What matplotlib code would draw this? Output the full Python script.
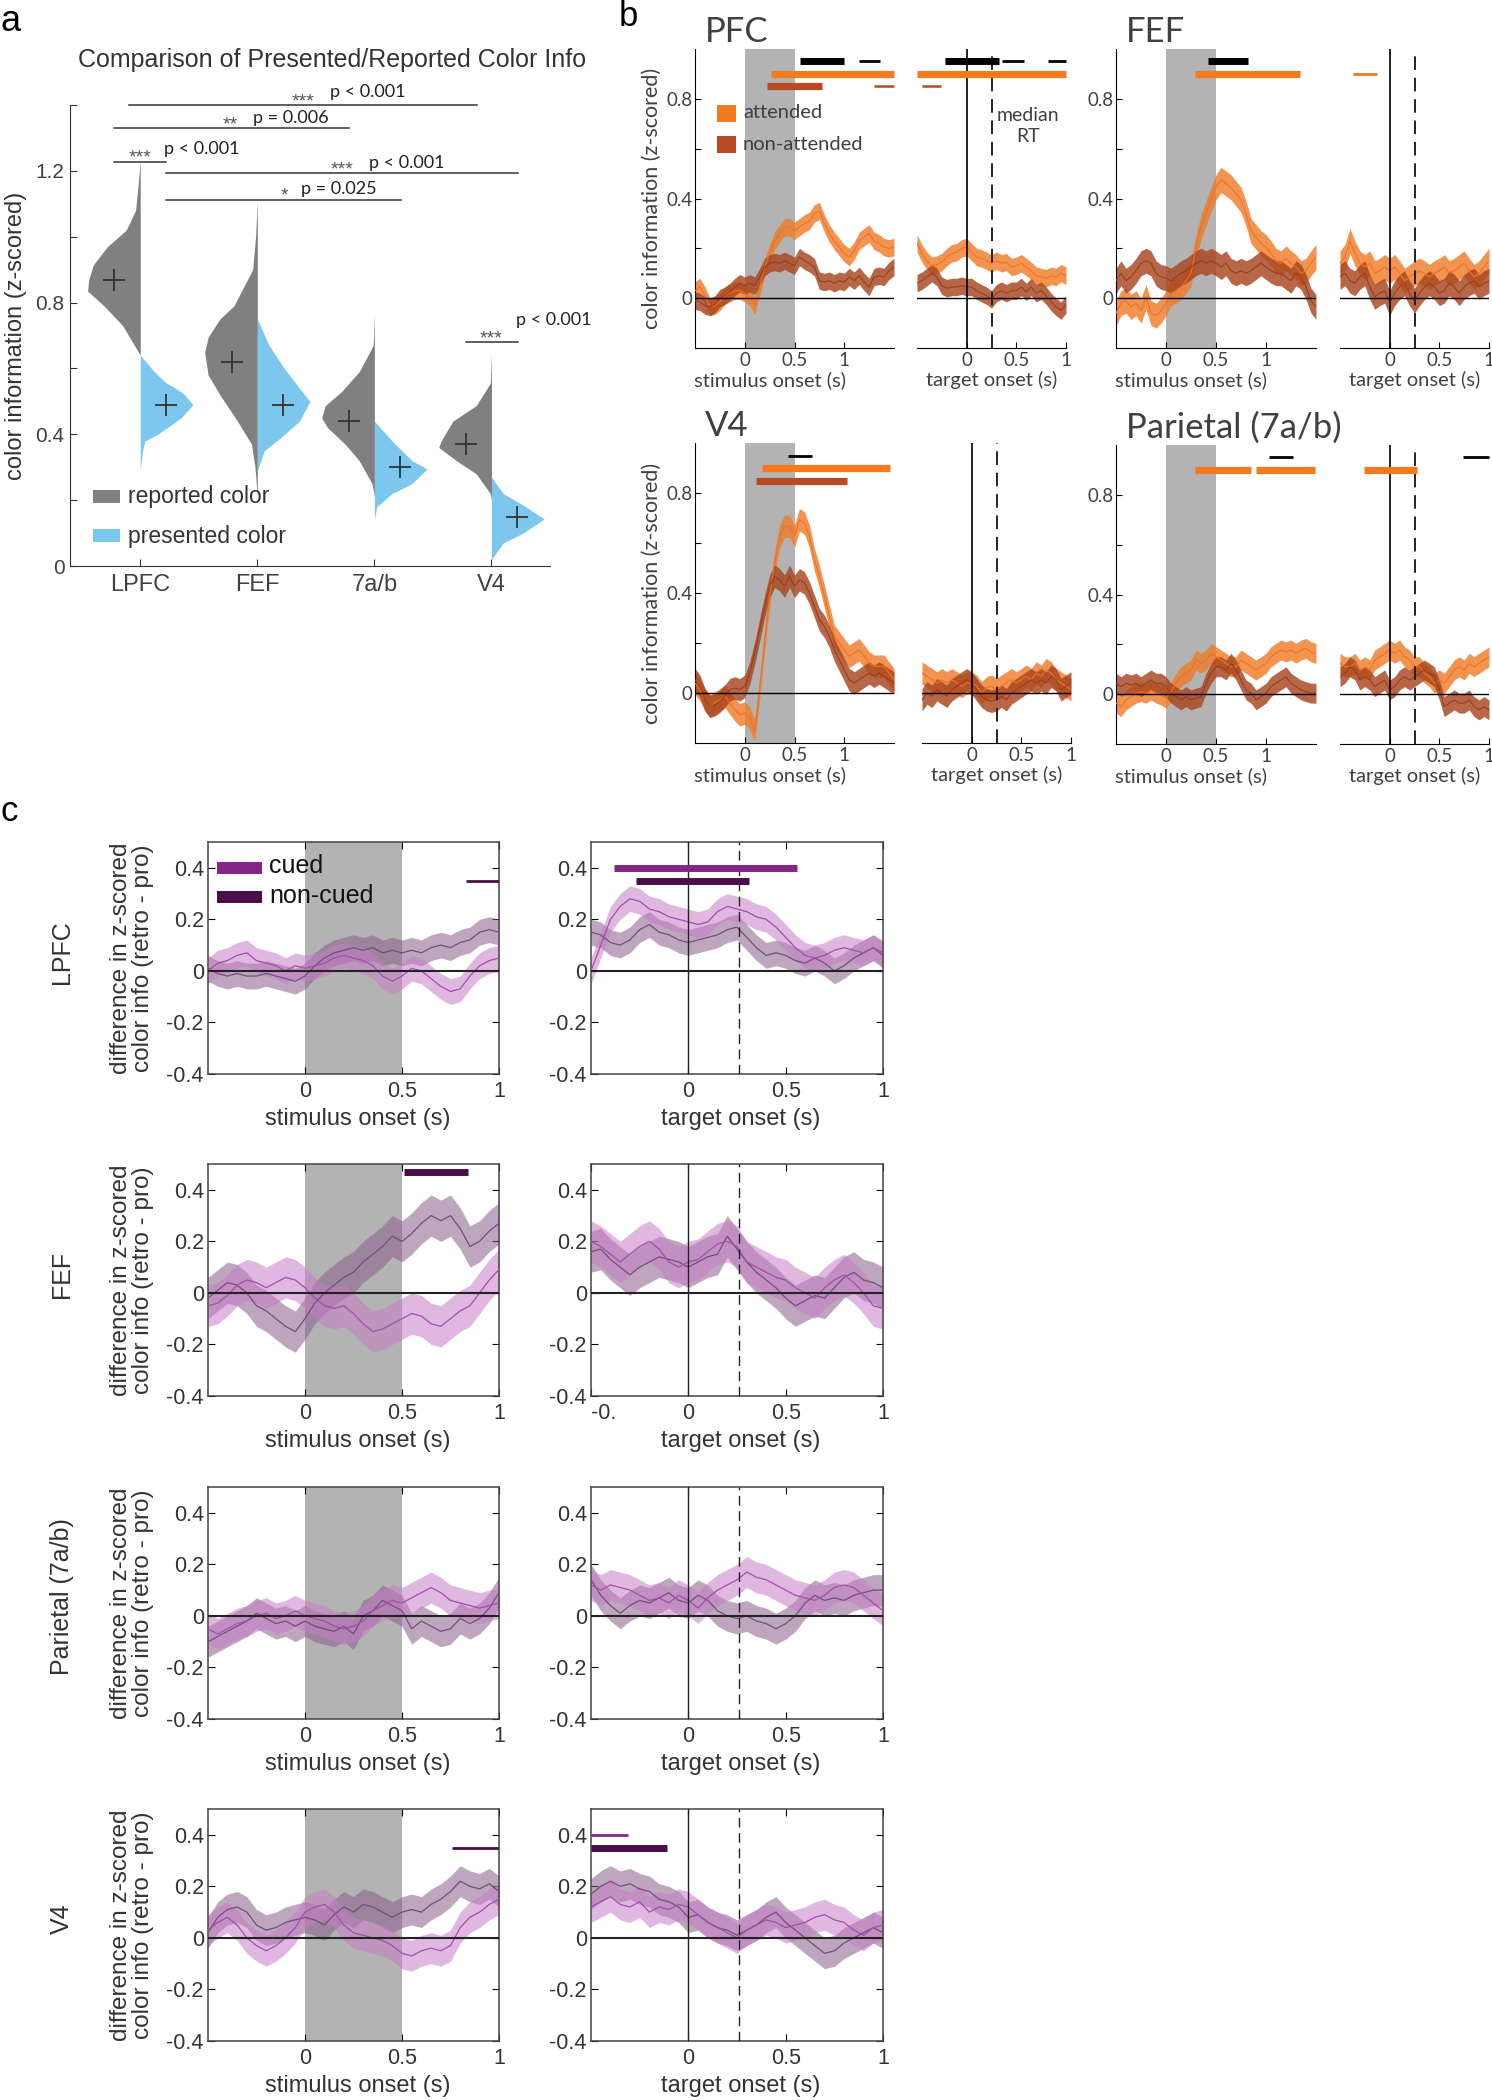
import numpy as np
import matplotlib
matplotlib.use("Agg")
import matplotlib.pyplot as plt
from matplotlib.patches import Rectangle

plt.rcParams["axes.unicode_minus"] = False

HELV = ["Liberation Sans", "DejaVu Sans"]
CALI = ["Lato", "DejaVu Sans"]

# ---------------- panel a: half violins ----------------
AREAS_A = ["LPFC", "FEF", "7a/b", "V4"]
REP_MEANS = [0.87, 0.62, 0.44, 0.37]
PRE_MEANS = [0.49, 0.49, 0.30, 0.15]

LPFC_REP_Y = [0.64, 0.67, 0.73, 0.79, 0.835, 0.87, 0.915, 0.97, 1.02, 1.08, 1.15, 1.23]
LPFC_REP_W = [0.0, 0.05, 0.15, 0.31, 0.45, 0.44, 0.40, 0.28, 0.12, 0.04, 0.02, 0.0]
LPFC_PRE_Y = [0.29, 0.35, 0.38, 0.40, 0.45, 0.49, 0.52, 0.543, 0.556, 0.59, 0.64]
LPFC_PRE_W = [0.0, 0.02, 0.04, 0.15, 0.35, 0.45, 0.38, 0.29, 0.22, 0.12, 0.0]
FEF_REP_Y = [0.21, 0.30, 0.37, 0.44, 0.52, 0.58, 0.65, 0.695, 0.75, 0.79, 0.90, 1.0, 1.106]
FEF_REP_W = [0.0, 0.02, 0.05, 0.17, 0.32, 0.42, 0.45, 0.42, 0.32, 0.20, 0.04, 0.015, 0.0]
FEF_PRE_Y = [0.29, 0.35, 0.39, 0.44, 0.50, 0.54, 0.60, 0.67, 0.75]
FEF_PRE_W = [0.0, 0.06, 0.20, 0.36, 0.45, 0.36, 0.23, 0.10, 0.0]
PAR_REP_Y = [0.21, 0.25, 0.32, 0.37, 0.42, 0.45, 0.487, 0.53, 0.59, 0.67, 0.765]
PAR_REP_W = [0.0, 0.02, 0.13, 0.25, 0.40, 0.45, 0.42, 0.28, 0.13, 0.01, 0.0]
PAR_PRE_Y = [0.14, 0.18, 0.22, 0.25, 0.295, 0.32, 0.38, 0.44]
PAR_PRE_W = [0.0, 0.02, 0.15, 0.32, 0.45, 0.32, 0.15, 0.0]
V4_REP_Y = [0.20, 0.22, 0.28, 0.32, 0.36, 0.38, 0.44, 0.487, 0.555, 0.643]
V4_REP_W = [0.0, 0.01, 0.13, 0.30, 0.45, 0.43, 0.33, 0.13, 0.01, 0.0]
V4_PRE_Y = [0.02, 0.07, 0.10, 0.143, 0.185, 0.22, 0.27]
V4_PRE_W = [0.0, 0.10, 0.27, 0.45, 0.27, 0.10, 0.0]

# comparisons: x0, x1, y, stars, p-value text
SIG_PAIRS = [
    (0.90, 3.88, 1.40, "***", "p < 0.001"),
    (0.78, 2.78, 1.33, "**", "p = 0.006"),
    (0.78, 1.22, 1.228, "***", "p < 0.001"),
    (1.22, 4.23, 1.193, "***", "p < 0.001"),
    (1.22, 3.23, 1.113, "*", "p = 0.025"),
    (3.78, 4.23, 0.68, "***", "p < 0.001"),
]
# star centre x, p text x, p text lift
SIG_TEXT_POS = [(2.39, 2.62, 0.024), (1.77, 1.96, 0.014), (1.0, 1.2, 0.024),
                (2.72, 2.95, 0.017), (2.23, 2.37, 0.017), (4.0, 4.21, 0.052)]

# ---------------- panel b: attended / non-attended ----------------
T_STIM = np.linspace(-0.5, 1.5, 41)
T_TARG = np.linspace(-0.5, 1.0, 31)

PFC_STIM_ATT = [0.03, 0.045, 0.01, -0.035, -0.03, -0.015, 0.01, 0.02, 0.03, 0.03,
                0.02, 0.005, -0.03, 0.045, 0.125, 0.18, 0.23, 0.26, 0.285, 0.285,
                0.27, 0.285, 0.30, 0.31, 0.34, 0.35, 0.30, 0.26, 0.23, 0.205,
                0.18, 0.165, 0.19, 0.23, 0.245, 0.26, 0.23, 0.22, 0.205, 0.20,
                0.205]
PFC_STIM_NON = [-0.01, -0.015, -0.03, -0.035, -0.025, 0.0, 0.01, 0.025, 0.045, 0.06,
                0.05, 0.06, 0.05, 0.085, 0.125, 0.14, 0.145, 0.14, 0.15, 0.14,
                0.13, 0.165, 0.15, 0.14, 0.125, 0.07, 0.065, 0.07, 0.06, 0.07,
                0.065, 0.085, 0.07, 0.09, 0.065, 0.045, 0.085, 0.09, 0.085, 0.11,
                0.125]
PFC_TARG_ATT = [0.22, 0.18, 0.15, 0.13, 0.135, 0.145, 0.165, 0.18, 0.185, 0.20,
                0.205, 0.185, 0.165, 0.16, 0.15, 0.14, 0.15, 0.14, 0.145, 0.125,
                0.13, 0.14, 0.125, 0.11, 0.09, 0.085, 0.08, 0.09, 0.085, 0.10,
                0.09]
PFC_TARG_NON = [0.06, 0.07, 0.085, 0.10, 0.085, 0.05, 0.04, 0.045, 0.045, 0.05,
                0.045, 0.045, 0.03, 0.02, 0.01, -0.005, 0.02, 0.03, 0.02, 0.03,
                0.03, 0.045, 0.025, 0.045, 0.02, 0.03, 0.01, -0.015, -0.035, -0.05,
                -0.025]

FEF_STIM_ATT = [-0.06, -0.02, -0.01, -0.035, -0.02, -0.05, 0.005, -0.06, -0.07, -0.05,
                -0.02, 0.02, 0.03, 0.045, 0.07, 0.10, 0.205, 0.285, 0.34, 0.395,
                0.445, 0.475, 0.46, 0.445, 0.42, 0.395, 0.34, 0.27, 0.245, 0.22,
                0.205, 0.18, 0.15, 0.14, 0.16, 0.14, 0.125, 0.10, 0.11, 0.14,
                0.165]
FEF_STIM_NON = [0.07, 0.10, 0.07, 0.085, 0.11, 0.14, 0.15, 0.14, 0.10, 0.085,
                0.08, 0.07, 0.085, 0.10, 0.11, 0.125, 0.14, 0.15, 0.14, 0.15,
                0.14, 0.125, 0.14, 0.11, 0.10, 0.11, 0.10, 0.11, 0.125, 0.14,
                0.125, 0.11, 0.10, 0.10, 0.085, 0.07, 0.10, 0.085, 0.045, -0.01,
                -0.035]
FEF_TARG_ATT = [0.14, 0.165, 0.23, 0.18, 0.14, 0.125, 0.14, 0.10, 0.11, 0.125,
                0.11, 0.125, 0.10, 0.07, 0.085, 0.10, 0.11, 0.10, 0.085, 0.10,
                0.11, 0.125, 0.10, 0.11, 0.125, 0.14, 0.11, 0.085, 0.10, 0.125,
                0.15]
FEF_TARG_NON = [0.085, 0.10, 0.07, 0.06, 0.085, 0.10, 0.045, 0.005, 0.02, 0.03,
                -0.02, 0.02, 0.045, 0.06, 0.02, -0.01, 0.02, 0.045, 0.06, 0.045,
                0.02, 0.03, 0.06, 0.045, 0.02, 0.045, 0.06, 0.07, 0.045, 0.06,
                0.07]

V4_STIM_ATT = [0.04, 0.013, -0.027, -0.053, -0.04, -0.027, -0.013, -0.04, -0.067, -0.087,
               -0.08, -0.10, -0.15, 0.02, 0.21, 0.39, 0.52, 0.627, 0.667, 0.667,
               0.627, 0.693, 0.68, 0.627, 0.533, 0.467, 0.387, 0.307, 0.227, 0.20,
               0.173, 0.147, 0.16, 0.173, 0.147, 0.12, 0.107, 0.107, 0.107, 0.08,
               0.053]
V4_STIM_NON = [0.053, 0.027, -0.027, -0.053, -0.047, -0.033, -0.013, 0.013, 0.02, 0.013,
               0.027, 0.08, 0.16, 0.253, 0.347, 0.427, 0.467, 0.453, 0.427, 0.467,
               0.427, 0.453, 0.44, 0.40, 0.347, 0.293, 0.267, 0.227, 0.173, 0.133,
               0.093, 0.053, 0.04, 0.053, 0.067, 0.08, 0.067, 0.08, 0.067, 0.053,
               0.04]
V4_TARG_ATT = [0.08, 0.067, 0.053, 0.04, 0.053, 0.04, 0.053, 0.04, 0.027, 0.04,
               0.04, 0.027, 0.0, 0.02, 0.027, 0.013, 0.027, 0.04, 0.053, 0.04,
               0.053, 0.067, 0.053, 0.08, 0.067, 0.093, 0.08, 0.053, 0.04, 0.027,
               0.013]
V4_TARG_NON = [-0.027, 0.0, -0.013, 0.013, 0.0, -0.013, 0.013, 0.027, 0.04, 0.053,
               0.04, 0.013, -0.013, -0.027, -0.033, -0.027, -0.013, -0.027, 0.0, 0.013,
               0.027, 0.04, 0.053, 0.04, 0.053, 0.04, 0.067, 0.053, 0.013, 0.027,
               0.04]

PAR_STIM_ATT = [-0.036, -0.05, -0.023, -0.01, 0.004, 0.01, 0.004, 0.017, 0.004, -0.003,
                -0.016, 0.01, 0.044, 0.07, 0.084, 0.097, 0.137, 0.124, 0.137, 0.164,
                0.15, 0.137, 0.124, 0.11, 0.11, 0.137, 0.124, 0.11, 0.097, 0.11,
                0.124, 0.15, 0.164, 0.177, 0.17, 0.177, 0.164, 0.177, 0.184, 0.17,
                0.164]
PAR_STIM_NON = [0.044, 0.03, 0.044, 0.037, 0.044, 0.03, 0.044, 0.057, 0.044, 0.044,
                0.03, 0.004, -0.01, -0.023, -0.01, -0.023, -0.016, -0.01, 0.044, 0.084,
                0.11, 0.11, 0.097, 0.124, 0.097, 0.057, 0.017, 0.004, -0.023, -0.01,
                0.004, 0.03, 0.044, 0.057, 0.07, 0.044, 0.03, 0.017, 0.01, 0.004,
                0.004]
PAR_TARG_ATT = [0.124, 0.11, 0.11, 0.124, 0.097, 0.11, 0.097, 0.137, 0.15, 0.164,
                0.177, 0.164, 0.177, 0.15, 0.137, 0.11, 0.11, 0.084, 0.07, 0.044,
                0.057, 0.044, 0.07, 0.097, 0.11, 0.097, 0.124, 0.11, 0.124, 0.137,
                0.15]
PAR_TARG_NON = [0.07, 0.084, 0.11, 0.097, 0.057, 0.07, 0.057, 0.03, 0.044, 0.057,
                0.017, 0.03, 0.057, 0.07, 0.057, 0.07, 0.084, 0.097, 0.084, 0.07,
                0.017, -0.05, -0.036, -0.023, -0.036, -0.036, -0.023, -0.05, -0.063, -0.05,
                -0.063]

# significance windows (kind, start, end)
PFC_STIM_BARS = [("diff", 0.56, 1.0), ("diff_thin", 1.15, 1.36), ("att", 0.26, 1.5), ("non", 0.22, 0.78),
                 ("non_thin", 1.30, 1.5)]
PFC_TARG_BARS = [("diff", -0.22, 0.33), ("diff_thin", 0.36, 0.58), ("diff_thin", 0.82, 1.0),
                 ("att", -0.5, 1.0), ("non_thin", -0.45, -0.26)]
FEF_STIM_BARS = [("diff", 0.42, 0.82), ("att", 0.29, 1.34)]
FEF_TARG_BARS = [("att_thin", -0.37, -0.13)]
V4_STIM_BARS = [("diff_thin", 0.43, 0.68), ("att", 0.17, 1.46), ("non", 0.11, 1.03)]
V4_TARG_BARS = []
PAR_STIM_BARS = [("diff_thin", 1.03, 1.27), ("att", 0.29, 0.85), ("att", 0.90, 1.49)]
PAR_TARG_BARS = [("att", -0.26, 0.28), ("diff_thin", 0.74, 1.0)]
SEM_B = {"PFC": 0.035, "FEF": 0.05, "V4": 0.045, "PAR": 0.04}

# ---------------- panel c: cued / non-cued differences ----------------
T_C = np.linspace(-0.5, 1.0, 31)
C_REGIONS = ["LPFC", "FEF", "Parietal (7a/b)", "V4"]

C_LPFC_STIM_CUED = [0.0, 0.03, 0.04, 0.06, 0.07, 0.04, 0.03, 0.02, 0.0, 0.02,
                    0.01, 0.02, 0.03, 0.05, 0.06, 0.05, 0.04, 0.02, -0.02, -0.04,
                    -0.02, 0.01, 0.0, -0.03, -0.06, -0.08, -0.07, -0.02, 0.02, 0.04,
                    0.05]
C_LPFC_STIM_UNCUED = [0.01, -0.01, -0.02, -0.01, -0.02, -0.02, -0.01, -0.02, -0.03, -0.04,
                      -0.02, 0.02, 0.05, 0.07, 0.08, 0.09, 0.08, 0.09, 0.07, 0.08,
                      0.07, 0.08, 0.07, 0.09, 0.10, 0.09, 0.11, 0.12, 0.15, 0.16,
                      0.15]
C_LPFC_TARG_CUED = [0.0, 0.10, 0.20, 0.25, 0.28, 0.27, 0.24, 0.23, 0.21, 0.20,
                    0.19, 0.18, 0.19, 0.23, 0.25, 0.24, 0.23, 0.21, 0.20, 0.17,
                    0.13, 0.09, 0.06, 0.05, 0.06, 0.08, 0.09, 0.08, 0.07, 0.09,
                    0.07]
C_LPFC_TARG_UNCUED = [0.15, 0.14, 0.11, 0.10, 0.12, 0.16, 0.18, 0.15, 0.14, 0.12,
                      0.11, 0.12, 0.13, 0.14, 0.16, 0.17, 0.13, 0.09, 0.06, 0.07,
                      0.06, 0.04, 0.03, 0.05, 0.03, 0.0, 0.02, 0.05, 0.07, 0.09,
                      0.06]
C_FEF_STIM_CUED = [-0.05, -0.04, -0.01, 0.03, 0.05, 0.04, 0.02, 0.04, 0.06, 0.05,
                   0.02, -0.02, -0.05, -0.06, -0.05, -0.08, -0.12, -0.15, -0.14, -0.12,
                   -0.10, -0.08, -0.09, -0.12, -0.13, -0.10, -0.07, -0.05, 0.0, 0.05,
                   0.09]
C_FEF_STIM_UNCUED = [-0.02, 0.01, 0.04, 0.03, 0.0, -0.05, -0.07, -0.10, -0.13, -0.15,
                     -0.10, -0.04, 0.0, 0.03, 0.06, 0.08, 0.12, 0.15, 0.18, 0.22,
                     0.20, 0.23, 0.27, 0.30, 0.28, 0.30, 0.25, 0.18, 0.20, 0.24,
                     0.27]
C_FEF_TARG_CUED = [0.20, 0.18, 0.15, 0.12, 0.15, 0.18, 0.20, 0.17, 0.12, 0.10,
                   0.12, 0.13, 0.16, 0.19, 0.20, 0.18, 0.12, 0.10, 0.08, 0.06,
                   0.05, 0.02, 0.0, -0.02, 0.02, 0.05, 0.07, 0.04, 0.0, -0.05,
                   -0.06]
C_FEF_TARG_UNCUED = [0.16, 0.17, 0.13, 0.10, 0.07, 0.10, 0.12, 0.14, 0.13, 0.12,
                     0.10, 0.12, 0.14, 0.15, 0.22, 0.17, 0.12, 0.08, 0.05, 0.02,
                     -0.02, -0.05, -0.03, -0.01, -0.02, 0.02, 0.06, 0.08, 0.05, 0.04,
                     0.02]
C_PAR_STIM_CUED = [-0.05, -0.07, -0.05, -0.03, -0.02, 0.0, 0.01, -0.01, 0.0, 0.02,
                   0.0, -0.01, -0.02, -0.04, -0.05, -0.04, -0.02, 0.02, 0.04, 0.06,
                   0.05, 0.07, 0.09, 0.11, 0.09, 0.06, 0.05, 0.04, 0.03, 0.04,
                   0.05]
C_PAR_STIM_UNCUED = [-0.10, -0.08, -0.06, -0.04, -0.02, 0.01, -0.01, -0.03, -0.02, -0.04,
                     -0.02, -0.04, -0.05, -0.06, -0.04, -0.07, 0.0, 0.02, 0.06, 0.04,
                     0.02, -0.05, -0.02, -0.04, -0.06, -0.05, -0.01, -0.03, -0.01, 0.03,
                     0.09]
C_PAR_TARG_CUED = [0.12, 0.10, 0.12, 0.11, 0.10, 0.08, 0.06, 0.07, 0.05, 0.08,
                   0.06, 0.03, 0.07, 0.10, 0.12, 0.14, 0.17, 0.15, 0.14, 0.12,
                   0.10, 0.08, 0.07, 0.06, 0.08, 0.11, 0.12, 0.11, 0.08, 0.05,
                   0.02]
C_PAR_TARG_UNCUED = [0.14, 0.08, 0.04, 0.01, 0.04, 0.06, 0.05, 0.07, 0.09, 0.06,
                     0.05, 0.08, 0.06, 0.02, 0.0, -0.01, 0.0, -0.02, -0.03, -0.05,
                     -0.03, 0.0, 0.05, 0.08, 0.06, 0.07, 0.06, 0.08, 0.09, 0.10,
                     0.10]
C_V4_STIM_CUED = [0.03, 0.06, 0.08, 0.05, 0.0, -0.03, -0.05, -0.03, 0.0, 0.04,
                  0.10, 0.12, 0.13, 0.10, 0.05, 0.02, 0.01, 0.0, -0.01, -0.03,
                  -0.06, -0.07, -0.05, -0.04, -0.05, -0.03, 0.04, 0.08, 0.10, 0.13,
                  0.15]
C_V4_STIM_UNCUED = [0.02, 0.08, 0.11, 0.12, 0.10, 0.05, 0.03, 0.04, 0.06, 0.07,
                    0.08, 0.07, 0.05, 0.09, 0.12, 0.10, 0.13, 0.12, 0.10, 0.08,
                    0.10, 0.11, 0.10, 0.13, 0.15, 0.18, 0.22, 0.20, 0.19, 0.21,
                    0.18]
C_V4_TARG_CUED = [0.12, 0.14, 0.16, 0.13, 0.12, 0.14, 0.10, 0.12, 0.11, 0.13,
                  0.12, 0.09, 0.06, 0.04, 0.02, 0.0, 0.03, 0.05, 0.07, 0.06,
                  0.04, 0.05, 0.06, 0.08, 0.09, 0.07, 0.06, 0.03, 0.01, 0.04,
                  0.05]
C_V4_TARG_UNCUED = [0.17, 0.20, 0.22, 0.20, 0.21, 0.19, 0.18, 0.15, 0.14, 0.12,
                    0.08, 0.09, 0.06, 0.04, 0.03, 0.01, 0.03, 0.05, 0.08, 0.10,
                    0.06, 0.03, 0.0, -0.03, -0.06, -0.05, -0.02, 0.0, 0.02, 0.04,
                    0.02]
SEM_C = [0.05, 0.08, 0.06, 0.06]

# (kind, start, end, level)
C_LPFC_STIM_BARS = [("non_thin", 0.83, 1.0, 0.35)]
C_LPFC_TARG_BARS = [("cued", -0.38, 0.56, 0.40), ("non", -0.27, 0.31, 0.35)]
C_FEF_STIM_BARS = [("non", 0.51, 0.84, 0.47)]
C_FEF_TARG_BARS = []
C_PAR_STIM_BARS = []
C_PAR_TARG_BARS = []
C_V4_STIM_BARS = [("non_thin", 0.76, 1.0, 0.35)]
C_V4_TARG_BARS = [("cued_thin", -0.5, -0.31, 0.40), ("non", -0.5, -0.11, 0.35)]

# ---------------- styles ----------------
GRAY_V = "#808080"
SKY = "#7cc7ee"
SHADE = "#b3b3b3"
ATT_BAND, ATT_LINE, ATT_BAR = "#f07c2a", "#ee7322", "#f47a20"
NON_BAND, NON_LINE, NON_BAR = "#a84520", "#9a3e1a", "#b84a22"
CUED_BAND, CUED_LINE, CUED_BAR = "#c77dc7", "#a050a8", "#862586"
NONC_BAND, NONC_LINE, NONC_BAR = "#8a608a", "#70507a", "#4a0e4a"
TXT = "#404040"

BAR_B = {"diff": ("black", 0.95, 5), "diff_thin": ("black", 0.95, 2),
         "att": (ATT_BAR, 0.90, 5.2), "att_thin": (ATT_BAR, 0.90, 2),
         "non": (NON_BAR, 0.85, 5.2), "non_thin": (NON_BAR, 0.85, 1.8)}
BAR_C = {"cued": (CUED_BAR, 5), "cued_thin": (CUED_BAR, 2),
         "non": (NONC_BAR, 5), "non_thin": (NONC_BAR, 2)}

W, H = 1492, 2100
fig = plt.figure(figsize=(W / 100, H / 100), dpi=100)


def add_ax(l, t, r, b):
    return fig.add_axes([l / W, 1 - b / H, (r - l) / W, (b - t) / H])


def ftext(x, y, s, **kw):
    return fig.text(x / W, 1 - y / H, s, **kw)


def fpatch(x, y, w, h, color):
    fig.add_artist(Rectangle((x / W, 1 - (y + h) / H), w / W, h / H,
                             transform=fig.transFigure, color=color, lw=0))


# ================= panel a =================
ftext(0, 4, "a", fontsize=26, family=HELV, va="top")
ax = add_ax(70, 105, 550, 566)
rep_y = [LPFC_REP_Y, FEF_REP_Y, PAR_REP_Y, V4_REP_Y]
rep_w = [LPFC_REP_W, FEF_REP_W, PAR_REP_W, V4_REP_W]
pre_y = [LPFC_PRE_Y, FEF_PRE_Y, PAR_PRE_Y, V4_PRE_Y]
pre_w = [LPFC_PRE_W, FEF_PRE_W, PAR_PRE_W, V4_PRE_W]
for i in range(len(AREAS_A)):
    x = i + 1
    ax.fill_betweenx(rep_y[i], x - np.array(rep_w[i]), x, color=GRAY_V, lw=0)
    ax.fill_betweenx(pre_y[i], x, x + np.array(pre_w[i]), color=SKY, lw=0)
    ax.plot(x - 0.22, REP_MEANS[i], marker="+", ms=16, mew=1.3, color="#333333")
    ax.plot(x + 0.22, PRE_MEANS[i], marker="+", ms=16, mew=1.3, color="#333333")
ax.set_xlim(0.4, 4.5)
ax.set_ylim(0, 1.4)
ax.set_xticks(range(1, 5), AREAS_A)
ax.set_yticks(np.linspace(0, 1.4, 8), ["0", "", "0.4", "", "0.8", "", "1.2", ""])
for sp in ("top", "right"):
    ax.spines[sp].set_visible(False)
for sp in ("left", "bottom"):
    ax.spines[sp].set_color("#333333")
ax.tick_params(direction="in", length=5, color="#333333", labelcolor=TXT, labelfontfamily=HELV[0])
ax.tick_params(axis="y", labelsize=15, pad=4)
ax.tick_params(axis="x", labelsize=17, pad=6)
for (x0, x1, y, stars, ptxt), (sx, px, pdy) in zip(SIG_PAIRS, SIG_TEXT_POS):
    ax.plot([x0, x1], [y, y], color="#333333", lw=1.1, clip_on=False)
    ax.text(sx, y - 0.004, stars, ha="center", va="baseline", fontsize=14, color="#555555", family=HELV)
    ax.text(px, y + pdy, ptxt, ha="left", va="baseline", fontsize=13, color="#222222", family=CALI)
ftext(332, 60, "Comparison of Presented/Reported Color Info", fontsize=18, family=HELV,
      color="#333333", ha="center", va="center")
ftext(16, 336, "color information (z-scored)", fontsize=17, family=HELV, color="#333333",
      rotation=90, ha="center", va="center")
fpatch(93, 490, 27, 13, GRAY_V)
fpatch(93, 529, 27, 13, SKY)
ftext(128, 497, "reported color", fontsize=16.5, family=HELV, color="#333333", va="center")
ftext(128, 536, "presented color", fontsize=16.5, family=HELV, color="#333333", va="center")


# ================= panel b =================
def draw_bars_b(ax, bars):
    for kind, t0, t1 in bars:
        color, level, lw = BAR_B[kind]
        ax.plot([t0, t1], [level, level], color=color, lw=lw, solid_capstyle="butt", clip_on=False, zorder=5)


def traces_b(ax, t, att, non, sem):
    for m, band, line in ((att, ATT_BAND, ATT_LINE), (non, NON_BAND, NON_LINE)):
        m = np.asarray(m)
        ax.fill_between(t, m - sem, m + sem, color=band, alpha=0.82, lw=0, zorder=2)
        ax.plot(t, m, color=line, lw=0.8, zorder=3)
    ax.axhline(0, color="black", lw=1, zorder=4)


def attn_panel(box_s, box_t, title, key, att_s, non_s, att_t, non_t, bars_s, bars_t, ylabel):
    sem = SEM_B[key]
    axs = add_ax(*box_s)
    axs.axvspan(0, 0.5, color=SHADE, lw=0, zorder=0)
    traces_b(axs, T_STIM, att_s, non_s, sem)
    draw_bars_b(axs, bars_s)
    axs.set_xlim(-0.5, 1.5)
    axs.set_ylim(-0.2, 1.0)
    axs.set_xticks([0, 0.5, 1], ["0", "0.5", "1"])
    axs.set_yticks([0, 0.2, 0.4, 0.6, 0.8], ["0", "", "0.4", "", "0.8"])
    for sp in ("top", "right"):
        axs.spines[sp].set_visible(False)
    axs.tick_params(direction="in", length=4, labelsize=13.5, labelcolor=TXT, labelfontfamily=CALI[0])
    axs.tick_params(axis="y", pad=2)
    axs.tick_params(axis="x", pad=3)

    axt = add_ax(*box_t)
    traces_b(axt, T_TARG, att_t, non_t, sem)
    draw_bars_b(axt, bars_t)
    axt.axvline(0, color="black", lw=1.2, zorder=4)
    axt.axvline(0.26, color="#222222", lw=1.4, ls=(0, (7, 4)), zorder=4)
    axt.set_xlim(-0.5, 1.0)
    axt.set_ylim(-0.2, 1.0)
    axt.set_xticks([0, 0.5, 1], ["0", "0.5", "1"])
    axt.set_yticks([])
    for sp in ("top", "right", "left"):
        axt.spines[sp].set_visible(False)
    axt.tick_params(direction="in", length=4, labelsize=13.5, labelcolor=TXT, labelfontfamily=CALI[0], pad=3)

    l, t, r, b = box_s
    ftext(l + 10, t - 7, title, fontsize=25, family=CALI, color=TXT, va="baseline")
    ftext((l + r) / 2 - 25, b + 32, "stimulus onset (s)", fontsize=14.5, family=CALI, color=TXT,
          ha="center", va="center")
    lt, _, rt, _ = box_t
    ftext((lt + rt) / 2, b + 32, "target onset (s)", fontsize=14.5, family=CALI, color=TXT,
          ha="center", va="center")
    if ylabel:
        ftext(652, (t + b) / 2, "color information (z-scored)", fontsize=15.5, family=CALI, color=TXT,
              rotation=90, ha="center", va="center")
    return axs, axt


ftext(619, 0, "b", fontsize=25, family=HELV, va="top")
axs, axt = attn_panel((695, 49, 894, 348), (917, 49, 1066, 348), "PFC", "PFC",
                      PFC_STIM_ATT, PFC_STIM_NON, PFC_TARG_ATT, PFC_TARG_NON,
                      PFC_STIM_BARS, PFC_TARG_BARS, True)
axt.text(0.62, 0.69, "median\nRT", ha="center", va="center", fontsize=14, family=CALI,
         color=TXT, linespacing=1.3)
fpatch(717, 105, 19, 17, ATT_BAR)
fpatch(717, 136, 19, 17, NON_BAR)
ftext(743, 113, "attended", fontsize=14.5, family=CALI, color=TXT, va="center")
ftext(743, 144, "non-attended", fontsize=14.5, family=CALI, color=TXT, va="center")

attn_panel((1116, 49, 1316, 348), (1340, 49, 1489, 348), "FEF", "FEF",
           FEF_STIM_ATT, FEF_STIM_NON, FEF_TARG_ATT, FEF_TARG_NON,
           FEF_STIM_BARS, FEF_TARG_BARS, False)
attn_panel((695, 443, 894, 743), (922, 443, 1071, 743), "V4", "V4",
           V4_STIM_ATT, V4_STIM_NON, V4_TARG_ATT, V4_TARG_NON,
           V4_STIM_BARS, V4_TARG_BARS, True)
attn_panel((1116, 445, 1316, 744), (1340, 445, 1489, 744), "Parietal (7a/b)", "PAR",
           PAR_STIM_ATT, PAR_STIM_NON, PAR_TARG_ATT, PAR_TARG_NON,
           PAR_STIM_BARS, PAR_TARG_BARS, False)


# ================= panel c =================
def traces_c(ax, cued, uncued, sem):
    for m, band, line in ((uncued, NONC_BAND, NONC_LINE), (cued, CUED_BAND, CUED_LINE)):
        m = np.asarray(m)
        ax.fill_between(T_C, m - sem, m + sem, color=band, alpha=0.55, lw=0, zorder=2)
        ax.plot(T_C, m, color=line, lw=0.9, zorder=3)
    ax.axhline(0, color="#222222", lw=1.5, zorder=4)


def draw_bars_c(ax, bars):
    for kind, t0, t1, level in bars:
        color, lw = BAR_C[kind]
        ax.plot([t0, t1], [level, level], color=color, lw=lw, solid_capstyle="butt", zorder=5)


def style_c(ax):
    ax.set_xlim(-0.5, 1.0)
    ax.set_ylim(-0.4, 0.5)
    ax.set_yticks([-0.4, -0.2, 0, 0.2, 0.4], ["-0.4", "-0.2", "0", "0.2", "0.4"])
    ax.set_xticks([0, 0.5, 1], ["0", "0.5", "1"])
    for sp in ax.spines.values():
        sp.set_color("#444444")
        sp.set_linewidth(1.1)
    ax.tick_params(direction="in", length=5, right=True, top=True, labelsize=15.5, labelcolor="#333333",
                   labelfontfamily=HELV[0])
    ax.tick_params(axis="y", pad=3)
    ax.tick_params(axis="x", pad=5)


ftext(0, 795, "c", fontsize=25, family=HELV, va="top")
c_stim = [(C_LPFC_STIM_CUED, C_LPFC_STIM_UNCUED), (C_FEF_STIM_CUED, C_FEF_STIM_UNCUED),
          (C_PAR_STIM_CUED, C_PAR_STIM_UNCUED), (C_V4_STIM_CUED, C_V4_STIM_UNCUED)]
c_targ = [(C_LPFC_TARG_CUED, C_LPFC_TARG_UNCUED), (C_FEF_TARG_CUED, C_FEF_TARG_UNCUED),
          (C_PAR_TARG_CUED, C_PAR_TARG_UNCUED), (C_V4_TARG_CUED, C_V4_TARG_UNCUED)]
c_bars_s = [C_LPFC_STIM_BARS, C_FEF_STIM_BARS, C_PAR_STIM_BARS, C_V4_STIM_BARS]
c_bars_t = [C_LPFC_TARG_BARS, C_FEF_TARG_BARS, C_PAR_TARG_BARS, C_V4_TARG_BARS]
row_tops = [842, 1164, 1487, 1809]
for i, region in enumerate(C_REGIONS):
    top = row_tops[i]
    bot = top + 232
    axs = add_ax(208, top, 499, bot)
    axs.axvspan(0, 0.5, color=SHADE, lw=0, zorder=0)
    traces_c(axs, c_stim[i][0], c_stim[i][1], SEM_C[i])
    draw_bars_c(axs, c_bars_s[i])
    style_c(axs)

    axt = add_ax(591, top, 883, bot)
    traces_c(axt, c_targ[i][0], c_targ[i][1], SEM_C[i])
    draw_bars_c(axt, c_bars_t[i])
    axt.axvline(0, color="#222222", lw=1.0, zorder=4)
    axt.axvline(0.26, color="#222222", lw=1.0, ls=(0, (7, 4)), zorder=4)
    style_c(axt)
    if region == "FEF":
        # the original shows a clipped "-0." label at the left edge
        axt.set_xticks([-0.5, 0, 0.5, 1], ["-0.", "0", "0.5", "1"])
        axt.get_xticklabels()[0].set_horizontalalignment("left")

    ftext(358, bot + 45, "stimulus onset (s)", fontsize=17, family=HELV, color="#333333",
          ha="center", va="center")
    ftext(741, bot + 45, "target onset (s)", fontsize=17, family=HELV, color="#333333",
          ha="center", va="center")
    mid = (top + bot) / 2
    ftext(132, mid, "difference in z-scored\ncolor info (retro - pro)", fontsize=17.5, family=HELV,
          color="#333333", rotation=90, ha="center", va="center", multialignment="center", linespacing=1.0)
    ftext(62, mid - 6, region, fontsize=18, family=HELV, color="#333333", rotation=90,
          ha="center", va="center")

fpatch(217, 862, 45, 12, CUED_BAR)
fpatch(217, 891, 45, 12, NONC_BAR)
ftext(269, 866, "cued", fontsize=18, family=HELV, color="#111111", va="center")
ftext(269, 896, "non-cued", fontsize=18, family=HELV, color="#111111", va="center")

fig.savefig("out.png", dpi=100, facecolor="white")
